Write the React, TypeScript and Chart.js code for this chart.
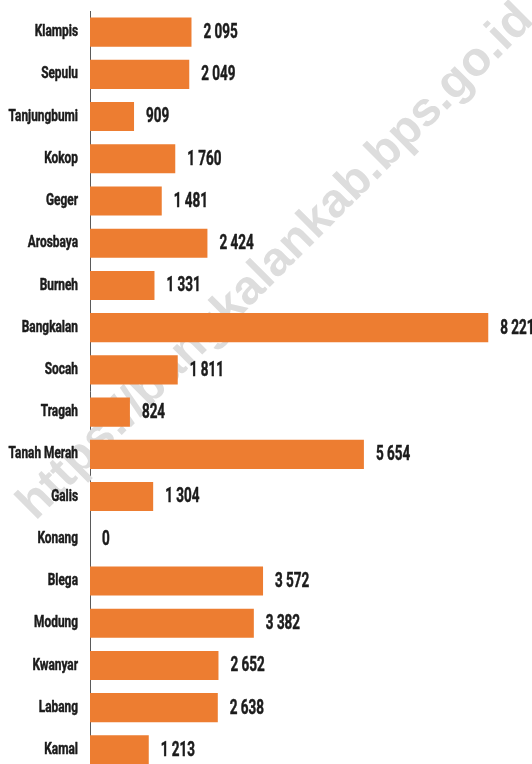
import React, { useEffect, useRef } from "react";
import { Chart, registerables } from "chart.js";

Chart.register(...registerables);

const categories: string[] = [
  "Klampis", "Sepulu", "Tanjungbumi", "Kokop", "Geger", "Arosbaya", "Burneh",
  "Bangkalan", "Socah", "Tragah", "Tanah Merah", "Galis", "Konang", "Blega",
  "Modung", "Kwanyar", "Labang", "Kamal",
];
const values: number[] = [
  2095, 2049, 909, 1760, 1481, 2424, 1331, 8221, 1811, 824, 5654, 1304, 0,
  3572, 3382, 2652, 2638, 1213,
];
const watermarkText = "https://bangkalankab.bps.go.id";

const fmt = (v: number) => String(v).replace(/\B(?=(\d{3})+(?!\d))/g, " ");

const TEXT_COLOR = "#1c1c1c";

const watermarkPlugin = {
  id: "watermark",
  beforeDatasetsDraw(chart: any) {
    const ctx = chart.ctx;
    ctx.save();
    ctx.translate(276, 262);
    ctx.rotate(-Math.PI / 4);
    ctx.font = "bold 48px 'Liberation Sans', Arial, sans-serif";
    ctx.fillStyle = "#dddddd";
    ctx.textAlign = "center";
    ctx.textBaseline = "middle";
    ctx.fillText(watermarkText, 0, 0);
    ctx.restore();
  },
};

const drawNarrow = (ctx: any, text: string, x: number, y: number, sx: number) => {
  ctx.save();
  ctx.translate(x, y);
  ctx.scale(sx, 1);
  ctx.fillText(text, 0, 0);
  ctx.strokeText(text, 0, 0);
  ctx.restore();
};

const textPlugin = {
  id: "texts",
  afterDatasetsDraw(chart: any) {
    const ctx = chart.ctx;
    const meta = chart.getDatasetMeta(0);
    const yScale = chart.scales.y;
    ctx.save();
    ctx.fillStyle = TEXT_COLOR;
    ctx.strokeStyle = TEXT_COLOR;
    ctx.lineWidth = 0.5;
    ctx.lineJoin = "round";
    ctx.textBaseline = "middle";
    // category labels
    ctx.font = "bold 16.5px Roboto, sans-serif";
    ctx.textAlign = "right";
    categories.forEach((c, i) => {
      drawNarrow(ctx, c, 78, yScale.getPixelForValue(i), 0.72);
    });
    // value labels
    ctx.font = "bold 19.5px Roboto, sans-serif";
    ctx.textAlign = "left";
    meta.data.forEach((bar: any, i: number) => {
      drawNarrow(ctx, fmt(values[i]), bar.x + 12, bar.y + 1, 0.69);
    });
    ctx.restore();
  },
};

export default function App() {
  const ref = useRef<HTMLCanvasElement>(null);
  useEffect(() => {
    if (!ref.current) return;
    const chart = new Chart(ref.current, {
      type: "bar",
      data: {
        labels: categories,
        datasets: [
          {
            data: values,
            backgroundColor: "#ED7D31",
            borderWidth: 0,
            categoryPercentage: 1,
            barPercentage: 0.69,
          },
        ],
      },
      options: {
        indexAxis: "y",
        responsive: false,
        animation: false,
        layout: { padding: { top: 11, bottom: 1, left: 0, right: 6 } },
        plugins: {
          legend: { display: false },
          tooltip: { enabled: false },
        },
        scales: {
          x: {
            display: false,
            min: 0,
            max: 9000,
          },
          y: {
            afterFit: (s: any) => {
              s.width = 90;
            },
            grid: { display: false },
            border: { display: true, color: "#5a5a5a", width: 1 },
            ticks: { display: false },
          },
        },
      },
      plugins: [watermarkPlugin, textPlugin],
    });
    return () => chart.destroy();
  }, []);
  return (
    <div style={{ position: "absolute", left: 0, top: 0, width: 532, height: 772, background: "#fff" }}>
      <canvas ref={ref} width={532} height={772} style={{ display: "block" }} />
    </div>
  );
}
